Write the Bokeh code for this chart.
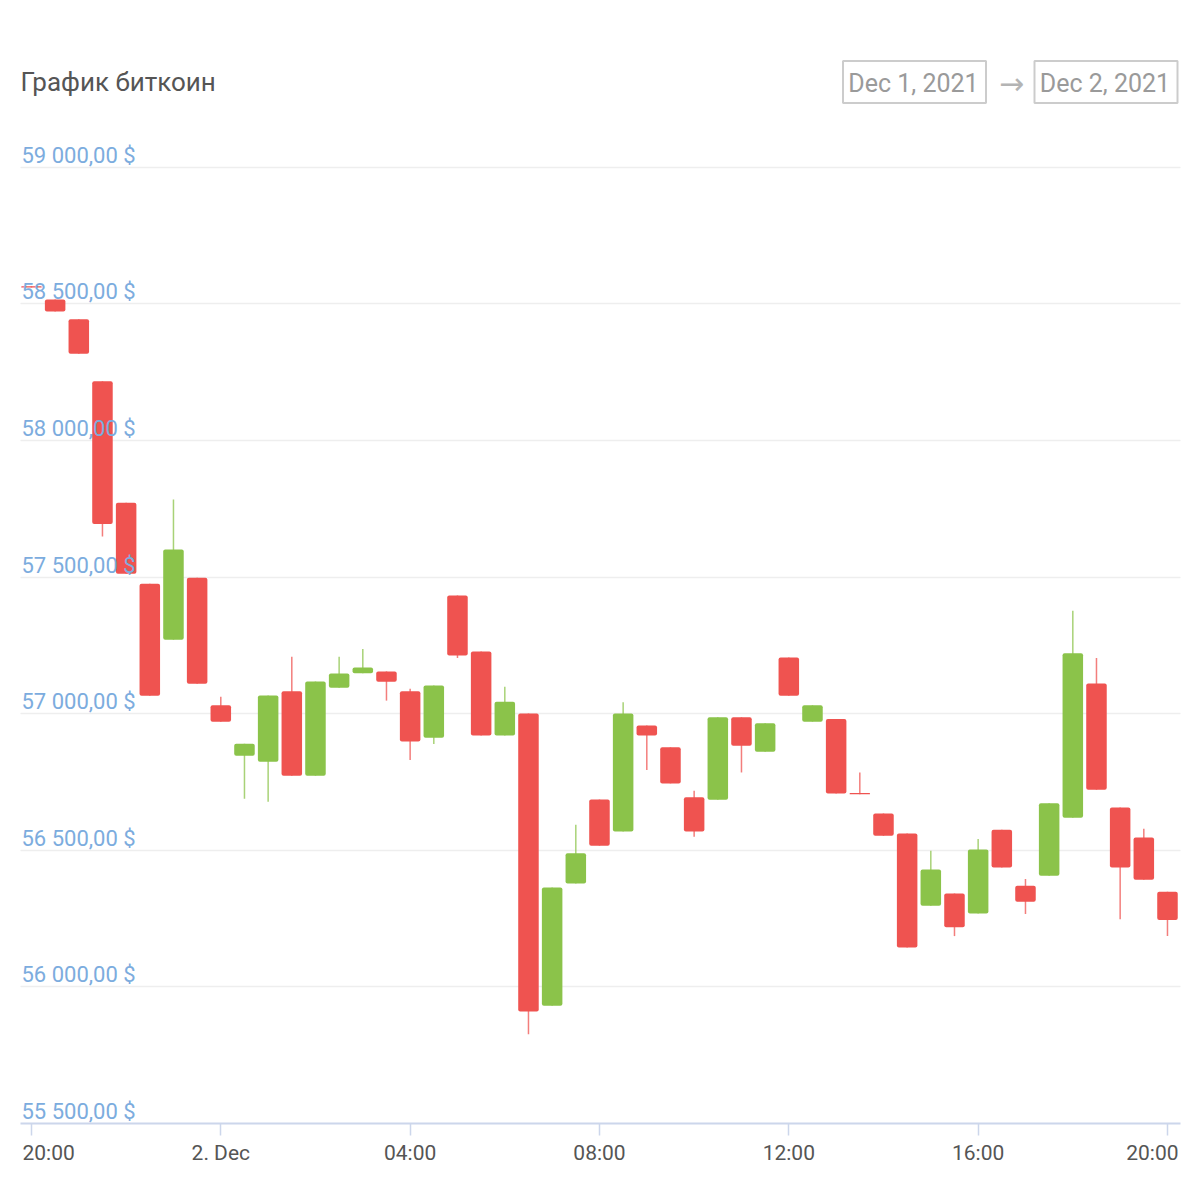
import pandas as pd
from bokeh.plotting import figure
from bokeh.layouts import column
from bokeh.models import Range1d, FixedTicker, Grid
from bokeh.core.properties import value
from bokeh.embed import file_html
from bokeh.resources import INLINE

# Half-hourly BTC candles, Dec 1 20:00 -> Dec 2 20:00
times = pd.date_range("2021-12-01 20:00", "2021-12-02 20:00", freq="30min")
opens = [58565, 58516, 58444, 58217, 57772, 57476, 57271, 57498, 57031, 56846,
         56824, 57082, 56773, 57095, 57148, 57155, 57082, 56912, 57433, 57228,
         56920, 57001, 55931, 56379, 56686, 56569, 56957, 56877, 56694, 56685,
         56987, 56861, 57206, 56971, 56981, 56710, 56635, 56562, 56297, 56342,
         56269, 56575, 56370, 56407, 56619, 57111, 56657, 56547, 56348]
highs = [58565, 58516, 58444, 58217, 57772, 57476, 57784, 57498, 57062, 56890,
         57067, 57209, 57118, 57209, 57237, 57155, 57091, 57103, 57433, 57228,
         57099, 57001, 56364, 56594, 56686, 57042, 56957, 56877, 56718, 56987,
         56987, 56965, 57206, 57031, 56981, 56785, 56635, 56562, 56498, 56342,
         56541, 56575, 56395, 56672, 57377, 57204, 56657, 56579, 56348]
lows = [58560, 58472, 58318, 57649, 57512, 57066, 57271, 57110, 56971, 56689,
        56678, 56773, 56773, 57095, 57148, 57048, 56831, 56889, 57204, 56920,
        56920, 55827, 55931, 56379, 56517, 56569, 56794, 56745, 56550, 56685,
        56785, 56861, 57066, 56971, 56708, 56705, 56553, 56144, 56297, 56186,
        56269, 56437, 56267, 56407, 56619, 56722, 56248, 56392, 56186]
closes = [58560, 58472, 58318, 57695, 57512, 57066, 57601, 57110, 56971, 56890,
          57067, 56773, 57118, 57147, 57169, 57117, 56898, 57103, 57213, 56920,
          57044, 55910, 56364, 56489, 56517, 57001, 56920, 56745, 56569, 56987,
          56883, 56965, 57066, 57031, 56708, 56705, 56553, 56144, 56430, 56218,
          56503, 56437, 56312, 56672, 57221, 56722, 56437, 56392, 56245]

# Axis ticks
price_ticks = [55500, 56000, 56500, 57000, 57500, 58000, 58500, 59000]
price_labels = ["55 500,00 $", "56 000,00 $", "56 500,00 $", "57 000,00 $",
                "57 500,00 $", "58 000,00 $", "58 500,00 $", "59 000,00 $"]
time_ticks = pd.date_range("2021-12-01 20:00", "2021-12-02 20:00", freq="4h")
time_labels = ["20:00", "2. Dec", "04:00", "08:00", "12:00", "16:00", "20:00"]

title_text = "График биткоин"
range_from = "Dec 1, 2021"
range_to = "Dec 2, 2021"

UP = "#8bc34a"
DOWN = "#ef5350"
FONT = "Roboto"


def to_ms(ts):
    return (pd.DatetimeIndex(ts) - pd.Timestamp("1970-01-01")) // pd.Timedelta("1ms")


t_ms = [float(v) for v in to_ms(times)]
tick_ms = [float(v) for v in to_ms(time_ticks)]
MIN = 60 * 1000.0


def bare(fig):
    fig.grid.visible = False
    fig.outline_line_color = None
    return fig


# ---------- header strip: title and date-range inputs ----------
# frame spans canvas pixels 20..1180, so the x range is set to those pixels
head = bare(figure(width=1200, height=120, x_range=Range1d(20, 1180), y_range=Range1d(120, 0),
                   toolbar_location=None, output_backend="svg",
                   min_border_left=20, min_border_right=20, min_border_top=0, min_border_bottom=0,
                   x_axis_location=None, y_axis_location=None))
head.text(x=[20], y=[81], text=[title_text], text_baseline="middle", text_align="left",
          text_font=value(FONT), text_font_size="26px", text_color="#555555")
head.rect(x=[914, 1105.5], y=[81.5, 81.5], width=[143, 143], height=[42, 42],
          fill_color="white", line_color="#cccccc", line_width=2)
head.text(x=[913, 1104.5], y=[83, 83], text=[range_from, range_to],
          text_baseline="middle", text_align="center",
          text_font=value(FONT), text_font_size="25px", text_color="#9a9a9a")
head.text(x=[1011], y=[83], text=["→"], text_baseline="middle", text_align="center",
          text_font=value("DejaVu Sans"), text_font_size="30px", text_color="#b4b4b4")

# ---------- candlestick chart ----------
x_range = Range1d(tick_ms[0] - 13.9 * MIN, tick_ms[-1] + 16.5 * MIN)
p = figure(width=1200, height=1020, x_axis_type="datetime",
           x_range=x_range, y_range=Range1d(55500, 59135),
           toolbar_location=None, output_backend="svg",
           min_border_left=20, min_border_right=20, min_border_top=10, min_border_bottom=17,
           y_axis_location=None)
p.outline_line_color = None
p.xgrid.visible = False
p.add_layout(Grid(dimension=1, ticker=FixedTicker(ticks=price_ticks[1:]),
                  grid_line_color="#eeeeee", grid_line_width=1.5))

colors = [UP if c >= o else DOWN for o, c in zip(opens, closes)]
tops = [max(o, c) for o, c in zip(opens, closes)]
bottoms = [min(o, c) for o, c in zip(opens, closes)]

p.segment(x0=t_ms, y0=lows, x1=t_ms, y1=highs, line_color=colors, line_width=1.5, line_alpha=0.75)
p.vbar(x=t_ms, width=26 * MIN, top=tops, bottom=bottoms, fill_color=colors,
       line_color=None, border_radius=2)

# price labels sit inside the plot, just above their grid lines
p.text(x=[x_range.start] * len(price_ticks), y=price_ticks, text=price_labels,
       x_offset=1, y_offset=-12, text_baseline="alphabetic", text_align="left",
       text_font=value(FONT), text_font_size="22px", text_color="#7cacde")

ax = p.xaxis[0]
ax.ticker = FixedTicker(ticks=tick_ms)
ax.major_label_overrides = {k: "" for k in tick_ms}
ax.major_label_text_font_size = "0px"
ax.major_label_standoff = 0
ax.axis_line_color = "#ccd6eb"
ax.axis_line_width = 2
ax.major_tick_line_color = "#ccd6eb"
ax.major_tick_line_width = 1.5
ax.major_tick_out = 12
ax.major_tick_in = 0
ax.minor_tick_out = 0
ax.minor_tick_in = 0

# ---------- time labels strip, sharing the chart's time scale ----------
foot = bare(figure(width=1200, height=60, x_range=x_range, y_range=Range1d(60, 0),
                   toolbar_location=None, output_backend="svg",
                   min_border_left=20, min_border_right=20, min_border_top=0, min_border_bottom=0,
                   x_axis_location=None, y_axis_location=None))
n = len(tick_ms)
aligns = ["left"] + ["center"] * (n - 2) + ["right"]
xoffs = [-9] + [0] * (n - 2) + [11]
foot.text(x=tick_ms, y=[12] * n, text=time_labels, x_offset=xoffs, text_align=aligns,
          text_baseline="middle", text_font=value(FONT), text_font_size="21px",
          text_color="#555555")

layout = column(head, p, foot, spacing=0)
open("out.html", "w").write(file_html(layout, INLINE))
